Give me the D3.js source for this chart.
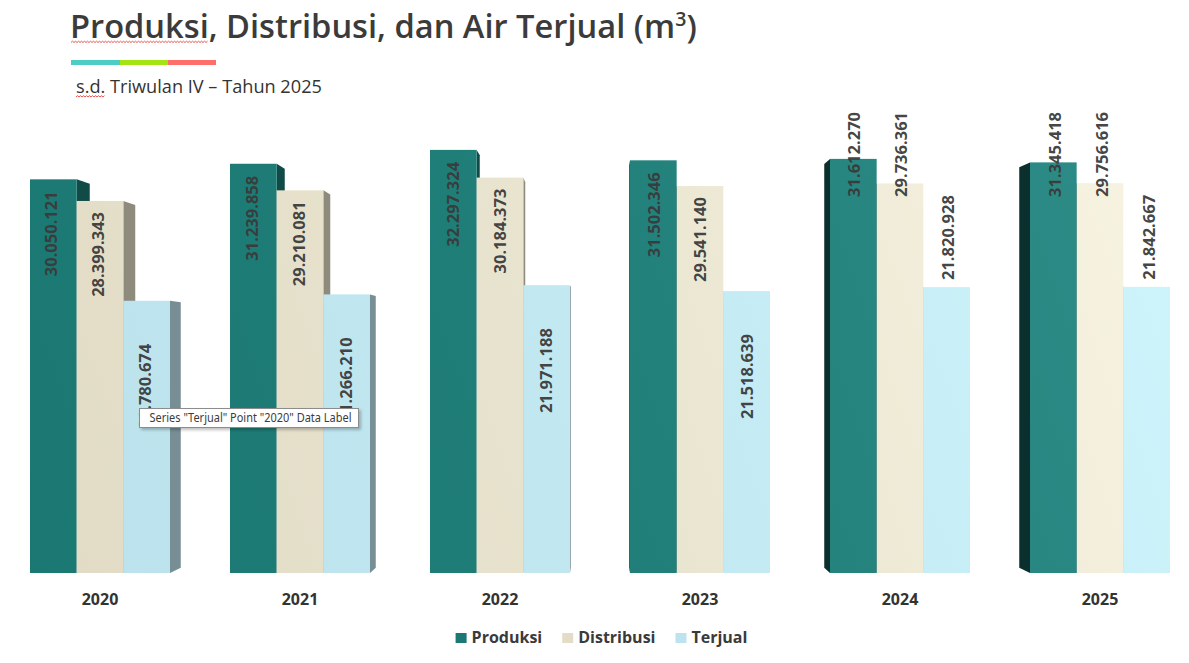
<!DOCTYPE html>
<html><head><meta charset="utf-8">
<script src="https://cdn.jsdelivr.net/npm/d3@7/dist/d3.min.js"></script>
<style>body{margin:0;background:#fff;overflow:hidden} svg{display:block}</style>
</head><body>
<svg id="chart" width="1189" height="663"></svg>
<script>
// ---------- data ----------
const years = ["2020", "2021", "2022", "2023", "2024", "2025"];
const seriesNames = ["Produksi", "Distribusi", "Terjual"];
const produksi   = [30050121, 31239858, 32297324, 31502346, 31612270, 31345418];
const distribusi = [28399343, 29210081, 30184373, 29541140, 29736361, 29756616];
const terjual    = [20780674, 21266210, 21971188, 21518639, 21820928, 21842667];
const seriesValues = [produksi, distribusi, terjual];
const titleText = "Produksi, Distribusi, dan Air Terjual (m";
const subtitleText = "s.d. Triwulan IV \u2013 Tahun 2025";
const tooltipText = 'Series "Terjual" Point "2020" Data Label';

// ---------- style ----------
const baseColors  = ["#1a7771", "#e1dbc5", "#bbe2ec"];
const lightColors = ["#2f8d89", "#f8f4e2", "#cef4fc"];
const legendColors = ["#1b7872", "#e3ddc8", "#bde4ee"];
const textColor = "#3a3a3a";

const svg = d3.select("#chart");
const W = 1189, H = 663;
const baseY = 573, topY = 114.5;
const VP = {x: 600, y: 360};   // perspective vanishing point
const depthT = 0.025;

const fmt = d3.formatLocale({decimal: ",", thousands: ".", grouping: [3], currency: ["", ""]}).format(",");

// scales
const x = d3.scaleBand().domain(years).range([0, 1200]).paddingInner(0.3).paddingOuter(0.15);
const xi = d3.scaleBand().domain(seriesNames).range([0, x.bandwidth()]);
const y = d3.scaleLinear().domain([0, 35e6]).range([baseY, topY]);

// gradients
const defs = svg.append("defs");
seriesNames.forEach((s, i) => {
  const g = defs.append("linearGradient").attr("id", "g" + i)
    .attr("gradientUnits", "userSpaceOnUse")
    .attr("x1", 0).attr("y1", baseY).attr("x2", W).attr("y2", 150);
  g.append("stop").attr("offset", "0").attr("stop-color", baseColors[i]);
  g.append("stop").attr("offset", "0.45").attr("stop-color", d3.interpolateRgb(baseColors[i], lightColors[i])(0.3));
  g.append("stop").attr("offset", "1").attr("stop-color", lightColors[i]);
});
const shadow = defs.append("filter").attr("id", "sh").attr("x", "-10%").attr("y", "-30%").attr("width", "130%").attr("height", "180%");
shadow.append("feDropShadow").attr("dx", 2).attr("dy", 2).attr("stdDeviation", 1.5).attr("flood-color", "#000").attr("flood-opacity", 0.25);

// ---------- title ----------
const title = svg.append("text").attr("x", 70).attr("y", 38)
  .attr("font-family", "'Open Sans', 'Noto Sans', sans-serif").attr("font-weight", 600)
  .attr("font-size", 32).attr("fill", "#3b3b3b");
title.append("tspan").text(titleText);
title.append("tspan").attr("font-size", "0.6em").attr("dy", "-0.62em").text("3");
title.append("tspan").attr("dy", "0.372em").text(")");
{
  const w = title.node().getBBox().width;
  const fs = Math.max(29, Math.min(35, 32 * 627 / w));
  title.attr("font-size", fs);
}
// spelling squiggle helper
function squiggle(x0, x1, yy) {
  let d = `M${x0},${yy}`;
  let up = true;
  for (let xx = x0 + 1.5; xx <= x1; xx += 1.5) { d += `L${xx},${yy + (up ? -1.3 : 0)}`; up = !up; }
  svg.append("path").attr("d", d).attr("fill", "none").attr("stroke", "#e8403a").attr("stroke-width", 0.9);
}
{
  const t0 = title.select("tspan").node();
  const wP = t0.getSubStringLength(0, 8);
  squiggle(71, 70 + wP, 42.5);
}

// colour strip
const strip = [["#4ecdc4", 71, 120], ["#a5e414", 120, 168], ["#ff6f6a", 168, 216]];
strip.forEach(s => svg.append("rect").attr("x", s[1]).attr("y", 60).attr("width", s[2] - s[1]).attr("height", 5).attr("fill", s[0]));

// subtitle
const sub = svg.append("text").attr("x", 76).attr("y", 93)
  .attr("font-family", "'Open Sans', 'Noto Sans', sans-serif").attr("font-size", 17).attr("fill", "#333").text(subtitleText);
{
  const w = sub.node().getComputedTextLength();
  sub.attr("font-size", Math.max(15, Math.min(19, 17 * 246 / w)));
  const wsd = sub.node().getSubStringLength(0, 4);
  squiggle(76, 76 + wsd, 97);
}

// ---------- bars ----------
const plot = svg.append("g");
const labelLayer = svg.append("g");
const insideOffset = [12, 11, 43];
const plotTop = 112;

years.forEach((yr, gi) => {
  const gx = x(yr);
  const cx = gx + x.bandwidth() / 2;
  const rightSide = cx < VP.x;   // side faces visible on the right for groups left of the vanishing point
  const order = rightSide ? [0, 1, 2] : [2, 1, 0];
  order.forEach(si => {
    const v = seriesValues[si][gi];
    const x0 = gx + xi(seriesNames[si]);
    const w = xi.bandwidth();
    const top = y(v), bot = y(0);
    const ex = rightSide ? x0 + w : x0;
    const bx = ex + depthT * (VP.x - ex);
    const pts = [[ex, top], [bx, top + depthT * (VP.y - top)], [bx, bot + depthT * (VP.y - bot)], [ex, bot]];
    const sideCol = d3.color(baseColors[si]).darker(rightSide ? 1.3 : 2.6);
    plot.append("polygon").attr("points", pts.map(p => p.join(",")).join(" ")).attr("fill", sideCol.formatHex());
    plot.append("rect").attr("x", x0).attr("y", top).attr("width", w).attr("height", bot - top).attr("fill", `url(#g${si})`);

    // data label
    const bcx = x0 + w / 2;
    let labTop;
    if (cx - VP.x > 200) labTop = Math.max(plotTop, top - 92);
    else labTop = top + insideOffset[si];
    const shift = (bcx - VP.x) * 0.004;
    labelLayer.append("text")
      .attr("transform", `translate(${bcx + shift},${labTop}) rotate(-90)`)
      .attr("text-anchor", "end").attr("y", 6)
      .attr("font-family", "'Open Sans', 'Noto Sans', sans-serif").attr("font-weight", 700)
      .attr("font-size", 16.5).attr("fill", textColor).attr("fill-opacity", 0.95)
      .text(fmt(v));
  });
});

// ---------- axis ----------
const axis = svg.append("g").attr("transform", `translate(0,${baseY})`)
  .call(d3.axisBottom(x).tickSize(0).tickPadding(21));
axis.select(".domain").remove();
axis.selectAll("text").attr("font-family", "'Open Sans', 'Noto Sans', sans-serif")
  .attr("font-weight", 700).attr("font-size", 16).attr("fill", "#333");

// ---------- legend ----------
const legend = svg.append("g");
let lx = 0;
const items = [];
seriesNames.forEach((s, i) => {
  const g = legend.append("g");
  g.append("rect").attr("x", 0).attr("y", -9).attr("width", 11).attr("height", 10).attr("fill", legendColors[i]);
  const t = g.append("text").attr("x", 16).attr("y", 1).attr("font-family", "'Open Sans', 'Noto Sans', sans-serif")
    .attr("font-weight", 700).attr("font-size", 16).attr("fill", textColor).text(s);
  const tw = t.node().getComputedTextLength();
  g.attr("transform", `translate(${lx},0)`);
  lx += 16 + tw + 20;
});
const totalW = lx - 20;
legend.attr("transform", `translate(${601.5 - totalW / 2},642)`);

// ---------- tooltip (as captured) ----------
const tip = svg.append("g").attr("transform", "translate(139.5,408.5)");
tip.append("rect").attr("width", 219).attr("height", 19).attr("fill", "#fff").attr("stroke", "#8c8c8c").attr("stroke-width", 1).attr("filter", "url(#sh)");
tip.append("text").attr("x", 10).attr("y", 13.5).attr("font-family", "'Noto Sans', 'Open Sans', sans-serif")
  .attr("font-size", 12).attr("fill", "#3c3c3c").attr("textLength", 202).attr("lengthAdjust", "spacingAndGlyphs").text(tooltipText);
</script>
</body></html>
